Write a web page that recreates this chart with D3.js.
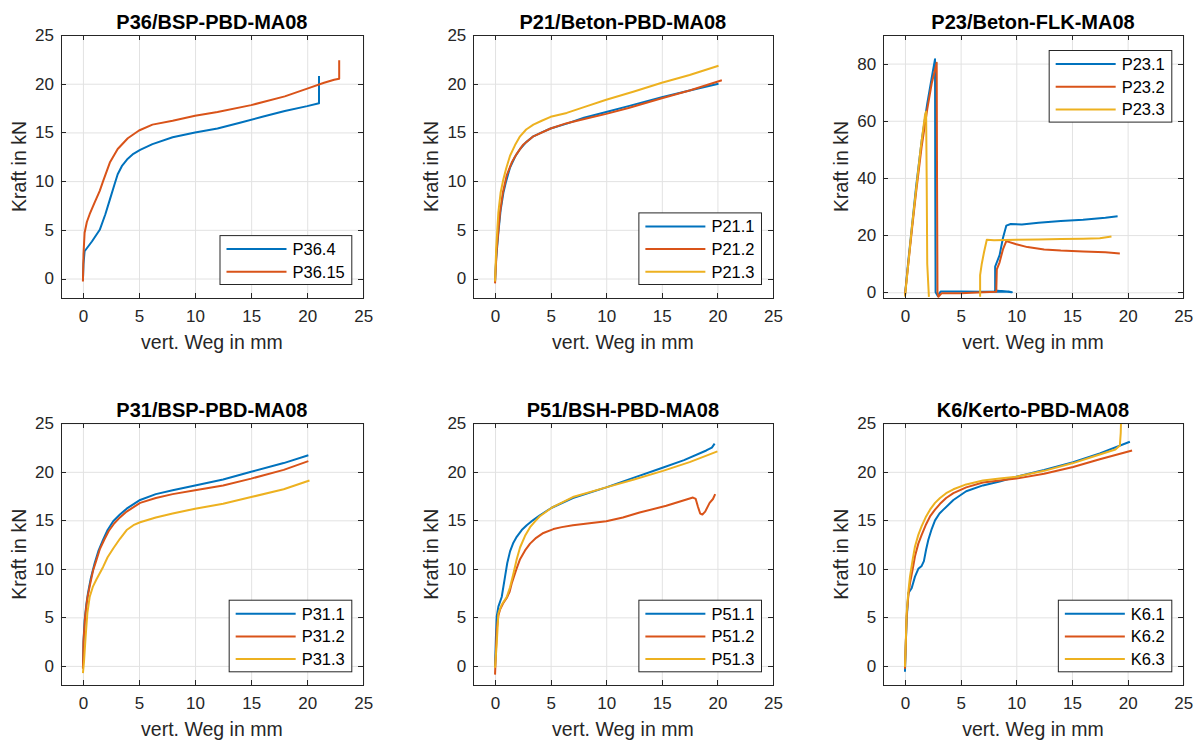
<!DOCTYPE html>
<html>
<head>
<meta charset="utf-8">
<script src="https://cdn.jsdelivr.net/npm/d3@7"></script>
<style>
body { margin: 0; background: #fff; }
text { font-family: "Liberation Sans", Arial, sans-serif; }
.grid line { stroke: #e2e2e2; stroke-width: 1; }
.grid path { display: none; }
.axis path, .axis line { stroke: #262626; stroke-width: 1; shape-rendering: crispEdges; }
.axis text { fill: #262626; font-size: 17px; }
</style>
</head>
<body>
<script>
// values: [vert. Weg in mm, Kraft in kN]
var p36_4  = [[0,-0.2],[0.05,1.5],[0.15,2.8],[0.8,3.8],[1.5,5.0],[2.0,6.6],[2.4,8.1],[2.8,9.6],[3.1,10.7],[3.5,11.6],[4.0,12.3],[4.5,12.8],[5.1,13.2],[6.2,13.8],[8,14.5],[10,15.0],[12,15.4],[14,16.0],[16,16.6],[18,17.2],[20,17.7],[21.05,18.0],[21.05,20.8]];
var p36_15 = [[0,-0.3],[0.05,2.5],[0.15,4.7],[0.35,5.8],[0.6,6.6],[1.0,7.7],[1.5,9.0],[1.8,10.0],[2.4,11.9],[3.1,13.3],[4.0,14.4],[5.0,15.2],[6.2,15.8],[8,16.2],[10,16.7],[12,17.1],[15,17.8],[18,18.7],[20,19.5],[21.5,20.1],[22.4,20.4],[22.85,20.5],[22.85,22.4]];

var p21_1 = [[0,-0.3],[0.1,2],[0.3,4.7],[0.5,7.0],[0.75,8.8],[1.0,10.0],[1.35,11.4],[1.8,12.5],[2.25,13.3],[2.8,14.0],[3.45,14.6],[4.2,15.0],[5,15.4],[6.45,15.9],[8,16.5],[10,17.1],[12,17.7],[15,18.6],[17.5,19.3],[20.1,20.0]];
var p21_2 = [[0,-0.5],[0.15,3],[0.45,6.8],[0.7,8.8],[1.05,10.6],[1.5,11.9],[1.95,12.8],[2.5,13.7],[3.45,14.6],[5,15.4],[6.45,15.95],[8.5,16.5],[10,16.9],[12,17.5],[15,18.5],[17.5,19.3],[20.4,20.35]];
var p21_3 = [[0,-0.3],[0.1,3],[0.3,6.8],[0.5,8.8],[0.75,10.2],[1.0,11.3],[1.35,12.6],[1.8,13.7],[2.25,14.6],[2.8,15.3],[3.45,15.8],[4.2,16.2],[5,16.6],[6.45,17.0],[8,17.6],[10,18.35],[12.5,19.2],[15,20.1],[17.5,20.9],[20.1,21.85]];

var p23_1 = [[0,-1],[0.3,11],[0.6,22],[1.0,37],[1.5,53],[2.0,66],[2.4,75],[2.7,81.5],[2.72,40],[2.75,0],[2.95,-1.3],[3.2,0.3],[5,0.3],[7,0.2],[9.3,0.3],[9.6,0.0],[8.1,0.6],[8.1,9],[8.3,11],[8.5,13],[8.8,19],[9.1,23.3],[9.5,23.9],[10.5,23.7],[12,24.3],[14,24.9],[16,25.4],[18,26.1],[19.1,26.6]];
var p23_2 = [[0,-1],[0.3,10],[0.6,21],[1.0,35],[1.5,51],[2.0,64],[2.4,73],[2.85,80.3],[2.88,40],[2.92,0],[3.0,-1.6],[3.3,-0.3],[5,-0.3],[7,0],[8.2,0.2],[8.25,8],[8.5,10.5],[8.8,15],[9.1,17.9],[10,16.8],[11,15.8],[12.5,15.0],[14,14.6],[16,14.3],[18,14.0],[19.3,13.6]];
var p23_3 = [[0,-1.5],[0.3,10],[0.6,22],[1.0,36],[1.4,50],[1.8,62],[1.9,63.2],[1.95,40],[2.0,10],[2.15,-1.6],null,[6.75,-1.6],[6.75,6],[6.9,10],[7.1,14],[7.35,18.4],[8,18.2],[10,18.4],[12,18.5],[14,18.6],[16,18.7],[17.5,18.9],[18.55,19.5]];

var p31_1 = [[0,-0.25],[0.05,2.5],[0.15,4.7],[0.3,6.3],[0.45,7.5],[0.7,9.0],[1.05,10.6],[1.4,11.9],[1.8,13.0],[2.2,14.0],[2.7,14.9],[3.3,15.6],[3.9,16.2],[5.1,17.1],[6.5,17.7],[8,18.1],[10,18.6],[12.5,19.2],[15,20.0],[17.9,20.9],[20.1,21.7]];
var p31_2 = [[0,-0.3],[0.05,2.5],[0.2,5.1],[0.4,7.0],[0.6,8.2],[0.9,9.8],[1.2,10.9],[1.5,12.0],[1.9,13.0],[2.3,13.9],[2.8,14.7],[3.3,15.3],[3.9,15.9],[5.1,16.8],[6.5,17.3],[8,17.7],[10,18.1],[12.5,18.6],[15,19.3],[17.9,20.2],[20.1,21.1]];
var p31_3 = [[0,-0.75],[0.1,0.5],[0.24,3.0],[0.4,5.5],[0.6,7.1],[0.9,8.2],[1.2,8.9],[1.8,10.2],[2.2,11.2],[2.7,12.1],[3.3,13.1],[3.9,14.0],[4.5,14.5],[5.1,14.8],[6.5,15.3],[8,15.7],[10,16.2],[12.5,16.7],[15,17.4],[17.9,18.2],[20.2,19.1]];

var p51_1 = [[0,-0.1],[0.08,3],[0.15,5.1],[0.3,6.1],[0.6,7.1],[0.9,9.2],[1.1,10.6],[1.35,11.8],[1.65,12.7],[1.95,13.3],[2.4,14.0],[2.85,14.5],[3.4,15.0],[4.0,15.5],[5.1,16.3],[7,17.3],[10,18.4],[12.5,19.4],[15,20.4],[17,21.2],[19,22.2],[19.5,22.5],[19.75,22.9]];
var p51_2 = [[0,-0.9],[0.08,1.5],[0.15,3.7],[0.3,5.2],[0.45,5.8],[0.75,6.5],[1.05,7.0],[1.3,7.6],[1.5,8.5],[1.9,9.9],[2.25,11.0],[2.7,11.9],[3.15,12.6],[3.7,13.2],[4.35,13.7],[5.25,14.1],[6,14.3],[7,14.5],[8.5,14.7],[10,14.9],[11.5,15.3],[13,15.8],[15.4,16.5],[17.8,17.35],[18.05,17.2],[18.25,16.4],[18.45,15.7],[18.65,15.6],[18.9,15.9],[19.3,16.8],[19.6,17.2],[19.8,17.7]];
var p51_3 = [[0,-0.2],[0.15,2.3],[0.3,5.4],[0.6,6.3],[1.05,7.1],[1.35,8.1],[1.65,9.5],[1.95,11.0],[2.25,12.2],[2.7,13.4],[3.15,14.3],[3.6,14.9],[4,15.4],[5.1,16.3],[7,17.4],[10,18.4],[12.5,19.2],[15.1,20.1],[17.5,21.0],[20,22.1]];

var k6_1 = [[0,-0.6],[0.08,2.5],[0.15,4.7],[0.3,7.5],[0.6,8.0],[0.9,9.2],[1.2,10.0],[1.5,10.3],[1.7,10.8],[1.9,12.0],[2.1,13.0],[2.4,14.1],[2.7,15.0],[3.1,15.7],[3.45,16.1],[4.35,17.1],[5.5,18.0],[7,18.6],[8.5,19.0],[10,19.5],[12.5,20.2],[15.1,21.0],[17.5,21.9],[20.2,23.1]];
var k6_2 = [[0,-0.3],[0.08,2.5],[0.15,5.1],[0.3,7.2],[0.45,8.5],[0.7,10.0],[0.9,11.3],[1.2,12.6],[1.5,13.5],[1.9,14.6],[2.25,15.4],[2.7,16.1],[3.15,16.7],[3.7,17.3],[4.35,17.8],[5.5,18.4],[7,18.9],[8.5,19.1],[10,19.3],[12.5,19.8],[15.1,20.5],[17.5,21.3],[20.4,22.2]];
var k6_3 = [[0,-0.1],[0.08,2.7],[0.15,5.4],[0.3,7.6],[0.45,9.2],[0.7,11.0],[0.9,12.3],[1.2,13.5],[1.5,14.4],[1.9,15.4],[2.25,16.1],[2.7,16.8],[3.15,17.3],[3.7,17.8],[4.35,18.2],[5.5,18.7],[7,19.1],[8.5,19.3],[10,19.5],[12.5,20.1],[15.1,20.9],[17,21.6],[18.9,22.3],[19.3,22.7],[19.38,24],[19.45,27]];

var titles = ['P36/BSP-PBD-MA08', 'P21/Beton-PBD-MA08', 'P23/Beton-FLK-MA08',
              'P31/BSP-PBD-MA08', 'P51/BSH-PBD-MA08', 'K6/Kerto-PBD-MA08'];
var legendLabels = [['P36.4', 'P36.15'], ['P21.1', 'P21.2', 'P21.3'], ['P23.1', 'P23.2', 'P23.3'],
                    ['P31.1', 'P31.2', 'P31.3'], ['P51.1', 'P51.2', 'P51.3'], ['K6.1', 'K6.2', 'K6.3']];
var xTicks = [0, 5, 10, 15, 20, 25];
var yTicksKraft = [0, 5, 10, 15, 20, 25];
var yTicksP23 = [0, 20, 40, 60, 80];
var xLabel = 'vert. Weg in mm';
var yLabel = 'Kraft in kN';
var colors = ['#0072BD', '#D95319', '#EDB120'];

var panels = [
    { series: [p36_4, p36_15], yDomain: [-2, 25], yTicks: yTicksKraft, legend: 'se' },
    { series: [p21_1, p21_2, p21_3], yDomain: [-2, 25], yTicks: yTicksKraft, legend: 'se' },
    { series: [p23_1, p23_2, p23_3], yDomain: [-2, 90], yTicks: yTicksP23, legend: 'ne' },
    { series: [p31_1, p31_2, p31_3], yDomain: [-2, 25], yTicks: yTicksKraft, legend: 'se' },
    { series: [p51_1, p51_2, p51_3], yDomain: [-2, 25], yTicks: yTicksKraft, legend: 'se' },
    { series: [k6_1, k6_2, k6_3], yDomain: [-2, 25], yTicks: yTicksKraft, legend: 'se' }
];

// axes boxes in the 1203x740 figure
var colLeft = [60.5, 472.8, 882.7];
var colWidth = [302.8, 300.2, 300.6];
var rowTop = [35, 423.3];
var rowHeight = [263, 262];

var svg = d3.select('body').append('svg')
    .attr('width', 1203).attr('height', 740);

panels.forEach(function(p, i) {
    var col = i % 3, row = Math.floor(i / 3);
    var box = { x: colLeft[col], y: rowTop[row], w: colWidth[col], h: rowHeight[row] };
    drawPanel(p, i, box);
});

function drawPanel(p, i, box) {
    var g = svg.append('g').attr('transform', 'translate(' + box.x + ',' + box.y + ')');
    var x = d3.scaleLinear().domain([-2, 25]).range([0, box.w]);
    var y = d3.scaleLinear().domain(p.yDomain).range([box.h, 0]);

    // grid
    g.append('g').attr('class', 'grid')
        .attr('transform', 'translate(0,' + box.h + ')')
        .call(d3.axisBottom(x).tickValues(xTicks).tickSize(-box.h).tickFormat(''));
    g.append('g').attr('class', 'grid')
        .call(d3.axisLeft(y).tickValues(p.yTicks).tickSize(-box.w).tickFormat(''));

    // curves
    g.append('clipPath').attr('id', 'clip' + i)
        .append('rect').attr('width', box.w).attr('height', box.h);

    var line = d3.line()
        .defined(function(d) { return d !== null; })
        .x(function(d) { return x(d[0]); })
        .y(function(d) { return y(d[1]); });

    g.append('g').attr('clip-path', 'url(#clip' + i + ')')
        .selectAll('path')
        .data(p.series)
        .enter()
        .append('path')
        .attr('d', line)
        .attr('fill', 'none')
        .attr('stroke', function(d, k) { return colors[k]; })
        .attr('stroke-width', 2)
        .attr('stroke-linejoin', 'round');

    // axes, ticks pointing inward on all four sides
    g.append('g').attr('class', 'axis')
        .attr('transform', 'translate(0,' + box.h + ')')
        .call(d3.axisBottom(x).tickValues(xTicks).tickSize(-5).tickSizeOuter(0).tickPadding(11.5));
    g.append('g').attr('class', 'axis')
        .call(d3.axisTop(x).tickValues(xTicks).tickSize(-5).tickSizeOuter(0).tickFormat(''));
    g.append('g').attr('class', 'axis')
        .call(d3.axisLeft(y).tickValues(p.yTicks).tickSize(-5).tickSizeOuter(0).tickPadding(6.5));
    g.append('g').attr('class', 'axis')
        .attr('transform', 'translate(' + box.w + ',0)')
        .call(d3.axisRight(y).tickValues(p.yTicks).tickSize(-5).tickSizeOuter(0).tickFormat(''));

    // title and axis labels
    g.append('text')
        .attr('x', box.w / 2).attr('y', -6.5)
        .attr('text-anchor', 'middle')
        .style('font-size', '20px').style('font-weight', 'bold').style('fill', '#000')
        .text(titles[i]);
    g.append('text')
        .attr('x', box.w / 2).attr('y', box.h + 50.5)
        .attr('text-anchor', 'middle')
        .style('font-size', '19.5px').style('fill', '#262626')
        .text(xLabel);
    g.append('text')
        .attr('transform', 'translate(-35,' + (box.h / 2) + ') rotate(-90)')
        .attr('text-anchor', 'middle')
        .style('font-size', '19.5px').style('fill', '#262626')
        .text(yLabel);

    // legend
    var labels = legendLabels[i];
    var rowH = 22.7;
    var lg = g.append('g');
    var rect = lg.append('rect')
        .attr('fill', '#fff').attr('stroke', '#262626').attr('stroke-width', 1);
    var maxW = 0;
    labels.forEach(function(lab, k) {
        var cy = 13.5 + k * rowH;
        lg.append('line')
            .attr('x1', 6.5).attr('x2', 66.5).attr('y1', cy).attr('y2', cy)
            .attr('stroke', colors[k]).attr('stroke-width', 2);
        var t = lg.append('text')
            .attr('x', 72.5).attr('y', cy).attr('dy', '0.36em')
            .style('font-size', '16.5px').style('fill', '#000')
            .text(lab);
        maxW = Math.max(maxW, t.node().getComputedTextLength());
    });
    var lw = 72.5 + maxW + 7;
    var lh = labels.length * rowH + 3.5;
    rect.attr('width', lw).attr('height', lh);
    var lx = box.w - 11.5 - lw;
    var ly = p.legend === 'ne' ? 15.5 : box.h - 13.5 - lh;
    lg.attr('transform', 'translate(' + lx + ',' + ly + ')');
}
</script>
</body>
</html>
